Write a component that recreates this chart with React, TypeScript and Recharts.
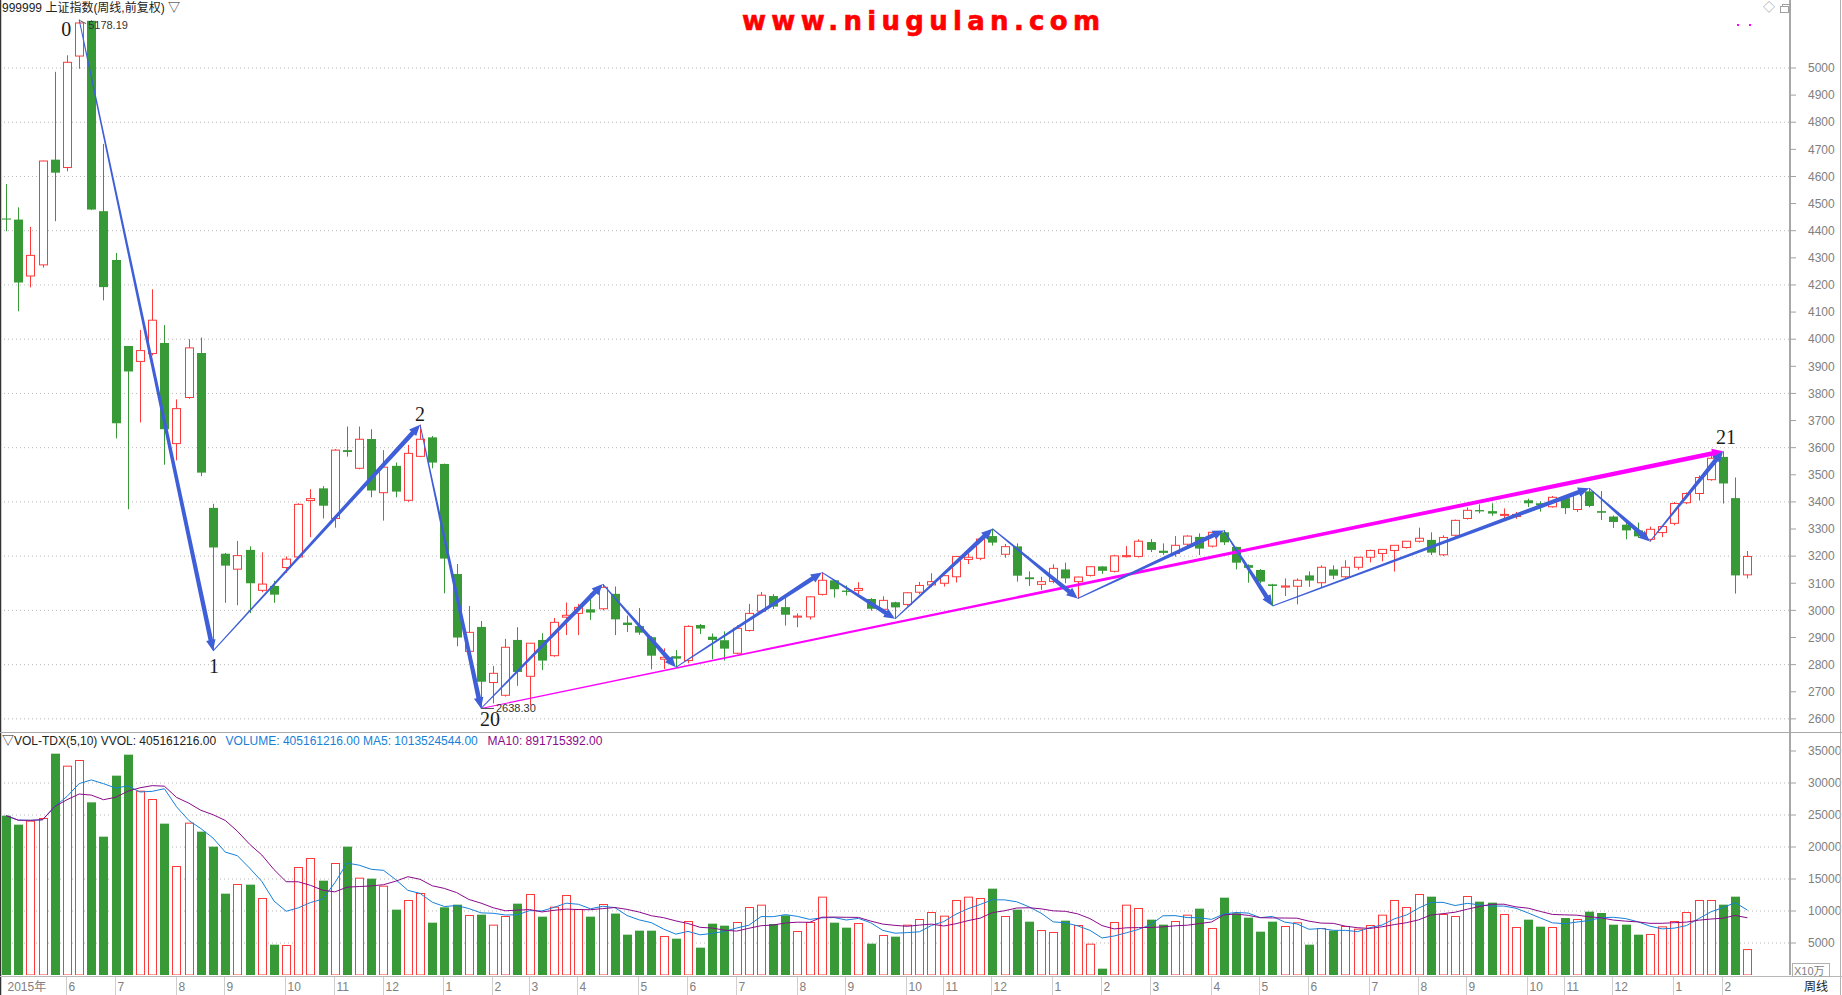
import React from "react";
import {
  Bar,
  CartesianGrid,
  ComposedChart,
  Line,
  ReferenceDot,
  ReferenceLine,
  XAxis,
  YAxis
} from "recharts";

// weekly candles, 2015-04-27 .. 2018-02-12
const opens = [
  4445, 4441, 4233, 4274, 4662, 4633, 5044, 5174, 4472, 4292,
  3975, 3918, 3947, 3986, 3615, 3785, 3949, 3378, 3209, 3152,
  3223, 3074, 3090, 3158, 3197, 3405, 3450, 3339, 3591, 3524,
  3632, 3434, 3533, 3406, 3568, 3638, 3540, 3134, 2849, 2939,
  2734, 2687, 2891, 2757, 2891, 2833, 2975, 2989, 3004, 3006,
  3061, 2955, 2942, 2901, 2820, 2831, 2815, 2946, 2903, 2890,
  2842, 2926, 2997, 3053, 3012, 2975, 2976, 3059, 3111, 3073,
  3074, 3042, 3004, 3030, 3022, 3067, 3094, 3100, 3124, 3188,
  3192, 3274, 3207, 3236, 3122, 3096, 3107, 3151, 3106, 3129,
  3162, 3144, 3198, 3199, 3252, 3220, 3210, 3244, 3271, 3237,
  3288, 3234, 3167, 3149, 3096, 3086, 3089, 3129, 3102, 3151,
  3124, 3159, 3196, 3210, 3221, 3232, 3255, 3260, 3205, 3277,
  3339, 3370, 3366, 3352, 3346, 3406, 3395, 3382, 3414, 3372,
  3439, 3366, 3346, 3316, 3295, 3262, 3287, 3321, 3397, 3431,
  3482, 3566, 3414, 3131
];
const highs = [
  4572, 4486, 4414, 4658, 4986, 5047, 5178.19, 5176, 4720, 4318,
  3975, 4034, 4184, 4052, 3778, 4000, 4006, 3393, 3212, 3256,
  3236, 3214, 3109, 3199, 3395, 3447, 3458, 3595, 3678, 3678,
  3668, 3591, 3545, 3610, 3684.57, 3643, 3541, 3171, 3016, 2961,
  2795, 2895, 2938, 2880, 2916, 2972, 3029, 3024, 3063, 3097,
  3088, 2981, 3009, 2905, 2860, 2854, 2945, 2950, 2915, 2923,
  2946, 3024, 3068, 3060, 3059, 2989, 3052, 3140, 3112, 3092,
  3104, 3045, 3052, 3032, 3067, 3105, 3137, 3130, 3200, 3210,
  3264, 3301, 3245, 3247, 3144, 3124, 3170, 3176, 3124, 3163,
  3163, 3205, 3237, 3262, 3263, 3247, 3274, 3277, 3284, 3290,
  3296, 3235, 3170, 3152, 3098, 3118, 3118, 3144, 3166, 3166,
  3185, 3196, 3224, 3225, 3240, 3255, 3305, 3288, 3277, 3335,
  3380, 3391, 3395, 3376, 3363, 3412, 3402, 3422, 3420, 3439,
  3450.49, 3440, 3350, 3324, 3324, 3309, 3310, 3400, 3435, 3498,
  3573, 3587.03, 3490, 3219
];
const lows = [
  4398, 4103, 4191, 4264, 4435, 4619, 4997, 4476, 4143, 3634,
  3373, 3693, 3940, 3537, 3553, 3780, 3495, 2850.71, 3028, 3019,
  2990, 3067, 3028, 3138, 3190, 3270, 3339, 3305, 3567, 3520,
  3417, 3331, 3417, 3400, 3565, 3524, 3063, 2868, 2844, 2638.3,
  2657, 2682, 2722, 2650, 2780, 2829, 2909, 2909, 2965, 3000,
  2909, 2920, 2910, 2783, 2784, 2790, 2805, 2913, 2820, 2815,
  2838, 2922, 2990, 3005, 2944, 2938, 2966, 3055, 3047, 3055,
  3060, 2999, 3000, 2969, 3015, 3060, 3085, 3088, 3103, 3171,
  3185, 3239, 3194, 3106, 3090, 3075, 3100, 3100, 3044, 3125,
  3135, 3140, 3195, 3195, 3215, 3205, 3198, 3235, 3204, 3232,
  3241, 3151, 3102, 3100, 3016, 3053, 3022, 3087, 3084, 3115,
  3118, 3150, 3177, 3181, 3143, 3228, 3250, 3204, 3200, 3270,
  3335, 3358, 3349, 3339, 3338, 3381, 3364, 3379, 3355, 3363,
  3380, 3333, 3304, 3262, 3267, 3254, 3270, 3314, 3392, 3405,
  3478, 3394, 3062, 3118
];
const closes = [
  4441, 4209, 4309, 4657, 4614, 5021, 5166, 4478, 4192, 3690,
  3881, 3958, 4070, 3668, 3744, 3968, 3508, 3232, 3165, 3202,
  3100, 3097, 3058, 3189, 3391, 3412, 3386, 3591, 3584, 3631,
  3442, 3528, 3438, 3579, 3631, 3545, 3191, 2900, 2919, 2737,
  2768, 2864, 2773, 2879, 2815, 2956, 2982, 3011, 2992, 3085,
  2967, 2946, 2918, 2833, 2827, 2822, 2941, 2933, 2891, 2859,
  2934, 2989, 3056, 3014, 2984, 2979, 3050, 3111, 3078, 3068,
  3081, 3006, 3037, 3011, 3065, 3092, 3106, 3128, 3199, 3196,
  3263, 3250, 3235, 3128, 3115, 3106, 3155, 3118, 3123, 3161,
  3146, 3201, 3202, 3255, 3223, 3212, 3240, 3274, 3228, 3288,
  3251, 3176, 3157, 3106, 3090, 3090, 3111, 3110, 3159, 3128,
  3159, 3196, 3221, 3225, 3240, 3255, 3266, 3213, 3269, 3332,
  3369, 3365, 3357, 3354, 3354, 3395, 3387, 3417, 3377, 3431,
  3385, 3360, 3326, 3295, 3273, 3299, 3309, 3394, 3431, 3490,
  3561, 3468, 3129, 3199
];
// volume in units of 10万
const volumes = [
  24896, 23490, 24115, 24531, 34583, 32708, 33594, 26979, 21615, 31146,
  34427, 28802, 27500, 23646, 17031, 23802, 22396, 20052, 12708, 14219,
  14115, 12031, 4740, 4687, 16875, 18281, 14740, 17500, 20052, 15208,
  15052, 13958, 10208, 11719, 12812, 8177, 10573, 10989, 9375, 9427,
  7865, 9219, 11146, 12656, 9115, 10677, 12500, 10312, 9115, 11094,
  9600, 6302, 6927, 6927, 6094, 5677, 8437, 4271, 8021, 7708,
  8281, 10625, 10989, 7969, 9323, 6875, 8281, 12240, 8177, 7396,
  8125, 4896, 6250, 5990, 7865, 8750, 9844, 9271, 11719, 12240,
  12031, 13490, 9219, 10208, 8333, 7031, 6719, 8490, 7812, 4896,
  990, 8281, 10989, 10469, 8646, 7865, 8437, 9427, 10365, 7344,
  12083, 9635, 8958, 6771, 8333, 7656, 8229, 4740, 7344, 6927,
  7656, 7240, 7812, 9427, 11719, 10625, 12656, 12240, 9531, 9219,
  12344, 11458, 11302, 9531, 7500, 8646, 7552, 7500, 8906, 8750,
  9896, 9687, 7865, 7865, 6302, 6406, 7604, 8437, 9844, 11719,
  11719, 10989, 12240, 4052
];

const monthTickIdx = [
  0, 5, 9, 14, 18, 23, 27, 31, 36, 40, 43, 47, 52, 56, 60, 65, 69,
  74, 77, 81, 86, 90, 94, 99, 103, 107, 112, 116, 120, 125, 128, 132, 137, 141
];
const monthLabels = [
  "2015年", "6", "7", "8", "9", "10", "11", "12", "1", "2", "3", "4", "5", "6", "7", "8", "9",
  "10", "11", "12", "1", "2", "3", "4", "5", "6", "7", "8", "9", "10", "11", "12", "1", "2"
];

const priceTicks = [
  2600, 2700, 2800, 2900, 3000, 3100, 3200, 3300, 3400, 3500, 3600, 3700, 3800,
  3900, 4000, 4100, 4200, 4300, 4400, 4500, 4600, 4700, 4800, 4900, 5000
];
const priceGrid = [2600, 2800, 3000, 3200, 3400, 3600, 3800, 4000, 4200, 4400, 4600, 4800, 5000];
const volTicks = [5000, 10000, 15000, 20000, 25000, 30000, 35000];
const volGrid = [5000, 10000, 15000, 20000, 25000, 30000];

// wave turning points (blue arrows) and the long trend arrow (magenta)
const waveIdx = [6, 17, 34, 39, 49, 55, 67, 73, 81, 88, 100, 104, 130, 135, 141];
const waveVal = [5178.19, 2850.71, 3684.57, 2638.3, 3097, 2790, 3140, 2969, 3301, 3044, 3295, 3016, 3450.49, 3254, 3587.03];
const trendIdx = [39, 141];
const trendVal = [2638.3, 3587.03];
const markIdx = [6, 17, 34, 39, 141];
const markVal = [5178.19, 2850.71, 3684.57, 2638.3, 3587.03];
const markNames = ["0", "1", "2", "20", "21"];
const markOffsets = [[-13, 16], [1, 22], [0, -4], [9, 18], [3, -7]];

const W = 1842;
const PRICE_H = 733;
const VOL_H = 262;
const SLOTS = 147;
const RED = "#ff3a3a";
const GREEN = "#379a37";
const BLUE = "#3f5fd8";
const MAGENTA = "#ff00ff";
const FONT = '"Liberation Sans", Arial, "Noto Sans CJK SC", sans-serif';

function sma(arr: number[], n: number, i: number) {
  const s = Math.max(0, i - n + 1);
  let t = 0;
  for (let k = s; k <= i; k++) t += arr[k];
  return t / (i - s + 1);
}

const rows = Array.from({ length: SLOTS }, (_, i) =>
  i < opens.length
    ? {
        i,
        o: opens[i],
        h: highs[i],
        l: lows[i],
        c: closes[i],
        range: [lows[i], highs[i]],
        vol: volumes[i],
        ma5: sma(volumes, 5, i),
        ma10: sma(volumes, 10, i)
      }
    : { i }
);

const Candle = (p: any) => {
  const { x, y, width, height, payload } = p;
  if (!payload || payload.o == null || isNaN(y)) return null;
  const { o, h, l, c } = payload;
  const top = Math.min(y, y + height);
  const hh = Math.abs(height);
  const px = (v: number) => top + ((h - v) / (h - l)) * hh;
  const xr = Math.round(x);
  const cx = xr + 4.5;
  const up = c >= o;
  const color = up ? RED : GREEN;
  const bTop = px(Math.max(o, c));
  const bBot = px(Math.min(o, c));
  const bh = Math.max(bBot - bTop, 1);
  return (
    <g>
      <line x1={cx} x2={cx} y1={top} y2={top + hh} stroke={color} strokeWidth={1} />
      {up ? (
        <rect x={xr + 0.5} y={bTop} width={8} height={bh} fill="#fff" stroke={RED} strokeWidth={1} />
      ) : (
        <rect x={xr} y={bTop} width={9} height={bh} fill={GREEN} />
      )}
    </g>
  );
};

const VolBar = (p: any) => {
  const { x, y, width, height, payload } = p;
  if (!payload || payload.vol == null || isNaN(y)) return null;
  const xr = Math.round(x);
  const up = payload.c >= payload.o;
  return up ? (
    <rect x={xr + 0.5} y={y + 0.5} width={8} height={Math.max(height - 0.5, 0)} fill="#fff" stroke={RED} />
  ) : (
    <rect x={xr} y={y} width={9} height={height} fill={GREEN} />
  );
};

function makeArrow(color: string) {
  return (p: any) => {
    const { x1, y1, x2, y2 } = p;
    if ([x1, y1, x2, y2].some((v) => typeof v !== "number" || isNaN(v))) return null;
    const dx = x2 - x1;
    const dy = y2 - y1;
    const len = Math.hypot(dx, dy) || 1;
    const ux = dx / len;
    const uy = dy / len;
    const nx = -uy;
    const ny = ux;
    const head = 11;
    const hw = 4.8;
    const w0 = 0.5;
    const w1 = 2.3;
    const bx = x2 - ux * head;
    const by = y2 - uy * head;
    const pts = [
      [x1 + nx * w0, y1 + ny * w0],
      [bx + nx * w1, by + ny * w1],
      [bx + nx * hw, by + ny * hw],
      [x2, y2],
      [bx - nx * hw, by - ny * hw],
      [bx - nx * w1, by - ny * w1],
      [x1 - nx * w0, y1 - ny * w0]
    ];
    return <polygon points={pts.map((q) => q.join(",")).join(" ")} fill={color} />;
  };
}
const blueArrow = makeArrow(BLUE);
const pinkArrow = makeArrow(MAGENTA);

const markShape = (name: string, dx: number, dy: number) => (p: any) => (
  <text
    x={p.cx + dx}
    y={p.cy + dy}
    textAnchor="middle"
    fontFamily='"Liberation Serif", "DejaVu Serif", serif'
    fontSize={20}
    fill="#1a1a1a"
  >
    {name}
  </text>
);

const HighTag = (p: any) => (
  <g>
    <line x1={p.cx + 1} y1={p.cy + 1} x2={p.cx + 7} y2={p.cy + 4} stroke="#555" />
    <text x={p.cx + 9} y={p.cy + 9} fontSize={11} fill="#333">
      5178.19
    </text>
  </g>
);
const LowTag = (p: any) => (
  <g>
    <line x1={p.cx + 1} y1={p.cy} x2={p.cx + 13} y2={p.cy} stroke="#555" />
    <text x={p.cx + 15} y={p.cy + 4} fontSize={11} fill="#333">
      2638.30
    </text>
  </g>
);

const MonthTick = (p: any) => {
  const { x, payload } = p;
  const k = monthTickIdx.indexOf(payload.value);
  if (k < 0) return null;
  const lx = Math.round(x) - 0.5;
  return (
    <g>
      {k > 0 && <line x1={lx} x2={lx} y1={244} y2={262} stroke="#cfcfcf" />}
      <text x={lx + 2} y={258} fontSize={12} fill="#808080">
        {monthLabels[k]}
      </text>
    </g>
  );
};

const yTick = { fontSize: 12, fill: "#808080" };

export default function App() {
  const segs = waveIdx.slice(1).map((to, k) => ({
    a: { x: waveIdx[k], y: waveVal[k] },
    b: { x: to, y: waveVal[k + 1] }
  }));
  return (
    <div
      style={{
        position: "absolute",
        left: 0,
        top: 0,
        width: W,
        height: 995,
        background: "#fff",
        overflow: "hidden",
        fontFamily: FONT
      }}
    >
      <div style={{ position: "absolute", left: 0, top: 0 }}>
        <ComposedChart width={W} height={PRICE_H} data={rows} margin={{ top: 0, right: 0, left: 0, bottom: 0 }}>
          <CartesianGrid vertical={false} horizontalValues={priceGrid} stroke="#b8b8b8" strokeDasharray="1 3" />
          <XAxis dataKey="i" type="category" hide height={0} />
          <YAxis
            orientation="right"
            width={52}
            domain={[2547.9, 5250.7]}
            allowDataOverflow
            ticks={priceTicks}
            interval={0}
            tickSize={6}
            tickMargin={12}
            tick={yTick}
            tickLine={{ stroke: "#a0a0a0" }}
            axisLine={{ stroke: "#a8a8a8", strokeWidth: 2 }}
          />
          <Bar dataKey="range" barSize={9} shape={Candle} isAnimationActive={false} />
          <ReferenceLine
            segment={[
              { x: trendIdx[0], y: trendVal[0] },
              { x: trendIdx[1], y: trendVal[1] }
            ]}
            position="middle"
            shape={pinkArrow}
            zIndex={600}
          />
          {segs.map((s, k) => (
            <ReferenceLine key={"w" + k} segment={[s.a, s.b]} position="middle" shape={blueArrow} zIndex={610} />
          ))}
          {markIdx.map((mi, k) => (
            <ReferenceDot
              key={"m" + k}
              x={mi}
              y={markVal[k]}
              r={0}
              shape={markShape(markNames[k], markOffsets[k][0], markOffsets[k][1])}
              zIndex={620}
            />
          ))}
          <ReferenceDot x={waveIdx[0]} y={highs[6]} r={0} shape={HighTag} zIndex={620} />
          <ReferenceDot x={waveIdx[3]} y={lows[39]} r={0} shape={LowTag} zIndex={620} />
        </ComposedChart>
      </div>
      <div style={{ position: "absolute", left: 0, top: PRICE_H }}>
        <ComposedChart width={W} height={VOL_H} data={rows} margin={{ top: 0, right: 0, left: 0, bottom: 0 }}>
          <CartesianGrid vertical={false} horizontalValues={volGrid} stroke="#b8b8b8" strokeDasharray="1 3" />
          <XAxis
            dataKey="i"
            type="category"
            height={20}
            ticks={monthTickIdx}
            interval={0}
            tick={MonthTick}
            tickLine={false}
            axisLine={false}
          />
          <YAxis
            orientation="right"
            width={52}
            domain={[0, 37812]}
            allowDataOverflow
            ticks={volTicks}
            interval={0}
            tickSize={6}
            tickMargin={12}
            tick={yTick}
            tickLine={{ stroke: "#a0a0a0" }}
            axisLine={{ stroke: "#a8a8a8", strokeWidth: 2 }}
          />
          <Bar dataKey="vol" barSize={9} shape={VolBar} isAnimationActive={false} />
          <Line dataKey="ma5" type="linear" stroke="#1680d8" strokeWidth={1} dot={false} activeDot={false} isAnimationActive={false} />
          <Line dataKey="ma10" type="linear" stroke="#8a0a8a" strokeWidth={1} dot={false} activeDot={false} isAnimationActive={false} />
        </ComposedChart>
      </div>
      <svg
        width={W}
        height={995}
        style={{ position: "absolute", left: 0, top: 0, pointerEvents: "none" }}
        fontFamily={FONT}
      >
        <line x1={0.5} y1={0} x2={0.5} y2={995} stroke="#333" strokeWidth={1.5} />
        <line x1={1840.5} y1={0} x2={1840.5} y2={995} stroke="#b0b0b0" />
        <line x1={0} y1={732.5} x2={W} y2={732.5} stroke="#a8a8a8" />
        <line x1={0} y1={976.5} x2={W} y2={976.5} stroke="#b8b8b8" />
        <text x={2} y={12} fontSize={12} fill="#222">
          999999 上证指数(周线,前复权) ▽
        </text>
        <text
          x={742}
          y={30}
          fontSize={26}
          fontWeight="bold"
          fontFamily='"DejaVu Sans", sans-serif'
          letterSpacing={5.3}
          fill="#ff0000"
          stroke="#ff0000"
          strokeWidth={0.6}
        >
          www.niugulan.com
        </text>
        <rect x={1737} y={24} width={2} height={2} fill={MAGENTA} />
        <rect x={1749} y={24} width={2} height={2} fill={MAGENTA} />
        <text x={1763} y={12} fontSize={12} fill="#a0a0a0">
          ◇
        </text>
        <rect x={1782.5} y={4.5} width={8} height={6} fill="none" stroke="#a0a0a0" />
        <rect x={1780.5} y={6.5} width={8} height={6} fill="#fff" stroke="#a0a0a0" />
        <text x={2} y={745} fontSize={12} fill="#222">
          ▽VOL-TDX(5,10) VVOL: 405161216.00
        </text>
        <text x={225.6} y={745} fontSize={12} fill="#1680d8">
          VOLUME: 405161216.00 MA5: 1013524544.00
        </text>
        <text x={487.6} y={745} fontSize={12} fill="#8a0a8a">
          MA10: 891715392.00
        </text>
        <rect x={1792.5} y={963.5} width={37} height={13} fill="#fff" stroke="#b0b0b0" />
        <text x={1794} y={974.5} fontSize={11} fill="#808080">
          X10万
        </text>
        <text x={1804} y={991} fontSize={12} fill="#222">
          周线
        </text>
      </svg>
    </div>
  );
}
